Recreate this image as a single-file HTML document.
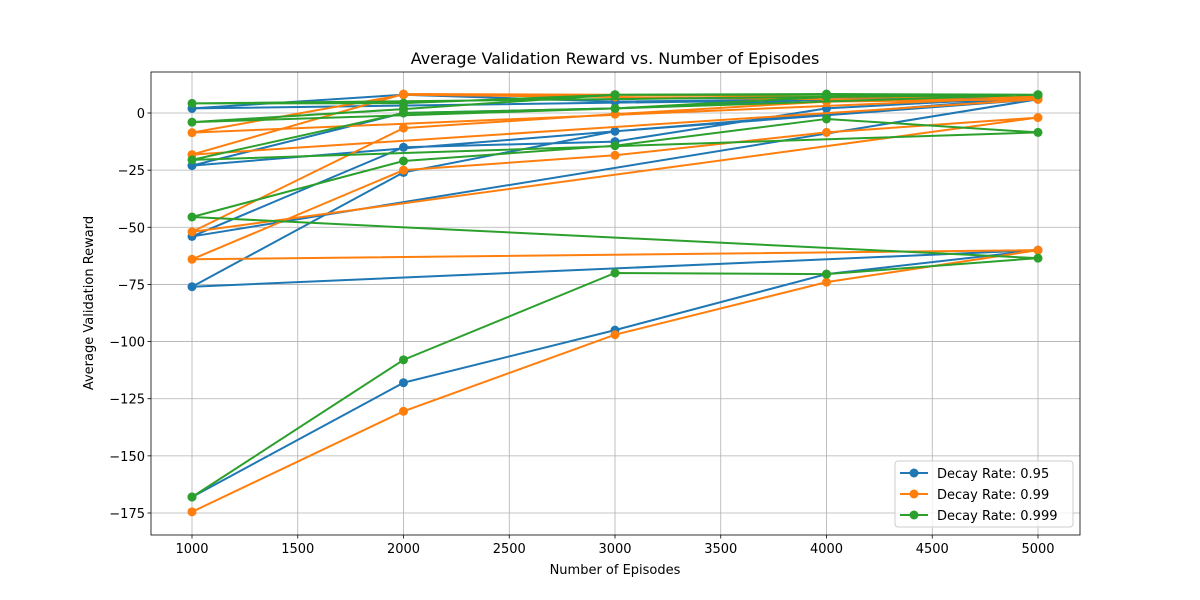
<!DOCTYPE html>
<html><head><meta charset="utf-8"><style>
body{margin:0;background:#fff;}
svg{display:block;font-family:"DejaVu Sans","Liberation Sans",sans-serif;}
</style></head><body>
<svg id="chart" width="1200" height="600">
<text x="615" y="64" text-anchor="middle" font-size="16">Average Validation Reward vs. Number of Episodes</text>
<text x="615" y="574" text-anchor="middle" font-size="13">Number of Episodes</text>
<text x="93" y="303" text-anchor="middle" font-size="13" transform="rotate(-90 93 303)">Average Validation Reward</text>
<g id="grid"></g><g id="series"></g><g id="axes"></g><g id="legend"></g>
</svg>
<script>
const episodes=[1000,2000,3000,4000,5000];
const xTicks=[1000,1500,2000,2500,3000,3500,4000,4500,5000];
const yTicks=[0,-25,-50,-75,-100,-125,-150,-175];
const seriesNames=["Decay Rate: 0.95","Decay Rate: 0.99","Decay Rate: 0.999"];
const values095=[-168,-118,-95,-70.5,-60, -76,-26,-8,-1,6, -54,-15,-12.5,2,7, -23,0,2,6,7, 2,8,5,6,7];
const values099=[-174.5,-130.5,-97,-74,-60, -64,-25,-18.5,-8.5,-2, -52,-6.6,-0.5,5,6, -18.2,8.3,8,7,7, -8.6,8,7,6,6];
const values0999=[-168,-108,-70,-70.5,-63.5, -45.5,-21,-14.3,-2.6,-8.5, -20.5,0,2,7,8, -4,1.7,8,8,8, 4.2,4.3,8,8.3,8];
const colors=["#1f77b4","#ff7f0e","#2ca02c"];
const L=151,R=1080,T=72,B=535;
const xS=v=>192+(v-1000)*(1038-192)/4000;
const yS=v=>113-v*2.2857;
const NS="http://www.w3.org/2000/svg";
function mk(tag,attrs,parent){const e=document.createElementNS(NS,tag);for(const k in attrs)e.setAttribute(k,attrs[k]);parent.appendChild(e);return e;}
const grid=document.getElementById('grid'),axes=document.getElementById('axes'),ser=document.getElementById('series'),leg=document.getElementById('legend');
xTicks.forEach(t=>{const x=xS(t);
 const g=mk('line',{x1:x,x2:x,y1:T,y2:B,stroke:'#b0b0b0','stroke-width':0.8},grid);
 
 mk('line',{x1:x,x2:x,y1:B,y2:B+3.5,stroke:'#000','stroke-width':0.8},axes);
 const tx=mk('text',{x:x,y:B+18,'text-anchor':'middle','font-size':13},axes);tx.textContent=t;
 });
yTicks.forEach(t=>{const y=yS(t);
 const g=mk('line',{x1:L,x2:R,y1:y,y2:y,stroke:'#b0b0b0','stroke-width':0.8},grid);
 
 mk('line',{x1:L-3.5,x2:L,y1:y,y2:y,stroke:'#000','stroke-width':0.8},axes);
 const tx=mk('text',{x:L-6,y:y+5,'text-anchor':'end','font-size':13},axes);tx.textContent=t===0?'0':'\u2212'+Math.abs(t);
 });
const fr=mk('rect',{x:L,y:T,width:R-L,height:B-T,fill:'none',stroke:'#000','stroke-width':0.8},axes);

[values095,values099,values0999].forEach((vals,si)=>{
 const g=mk('g',{},ser);
 
 const pts=vals.map((v,i)=>xS(episodes[i%5])+','+yS(v)).join(' ');
 const pl=mk('polyline',{points:pts,fill:'none',stroke:colors[si],'stroke-width':2},g);
 
 vals.forEach((v,i)=>{const c=mk('circle',{cx:xS(episodes[i%5]),cy:yS(v),r:4.5,fill:colors[si]},g);
  });
});
const lb=mk('rect',{x:895,y:461,width:178,height:66,rx:3,fill:'#fff','fill-opacity':0.8,stroke:'#ccc','stroke-width':1},leg);

seriesNames.forEach((n,i)=>{const y=473+i*21;
 const g=mk('g',{},leg);
 
 mk('line',{x1:900,x2:928,y1:y,y2:y,stroke:colors[i],'stroke-width':2},g);
 mk('circle',{cx:914,cy:y,r:4.5,fill:colors[i]},g);
 const t=mk('text',{x:937,y:y+5,'font-size':13},g);t.textContent=n;});
</script>
</body></html>
